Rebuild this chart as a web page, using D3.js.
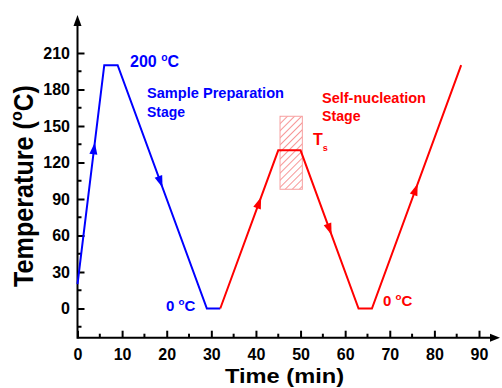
<!DOCTYPE html>
<html>
<head>
<meta charset="utf-8">
<script src="https://cdn.jsdelivr.net/npm/d3@7"></script>
<style>
  body { margin: 0; background: #fff; }
  text { font-family: "Liberation Sans", Arial, sans-serif; font-weight: bold; }
</style>
</head>
<body>
<div id="chart"></div>
<script>
// heating / cooling programme
var blueTime = [0, 6, 9, 29, 32];
var blueTemp = [20, 200, 200, 0, 0];
var redTime = [32, 45, 50, 63, 66, 86];
var redTemp = [0, 130, 130, 0, 0, 200];
// arrows: segment index + fraction along it
var blueArrows = [[0, 0.62], [2, 0.48]];
var redArrows = [[0, 0.67], [2, 0.5], [4, 0.49]];
// Ts window
var tsTime = [45.4, 50.4];
var tsTemp = [98, 158];
var xTicks = [0, 10, 20, 30, 40, 50, 60, 70, 80, 90];
var yTicks = [0, 30, 60, 90, 120, 150, 180, 210];

var W = 502, H = 388;
var svg = d3.select("#chart").append("svg")
  .attr("width", W).attr("height", H);

var x = d3.scaleLinear().domain([0, 90]).range([77.5, 479]);
var y = d3.scaleLinear().domain([-24, 210]).range([337.7, 53]);

var defs = svg.append("defs");
var pat = defs.append("pattern")
  .attr("id", "hatch").attr("patternUnits", "userSpaceOnUse")
  .attr("width", 5).attr("height", 5)
  .attr("patternTransform", "rotate(45)");
pat.append("line").attr("x1", 0).attr("y1", 0).attr("x2", 0).attr("y2", 5)
  .attr("stroke", "#f03030").attr("stroke-width", 1);

// axes
var axisY = y(-24), axisX = x(0);
var gx = svg.append("g").attr("transform", "translate(0," + axisY + ")")
  .call(d3.axisBottom(x).tickValues(xTicks).tickSizeInner(-7).tickSizeOuter(0).tickPadding(11));
var gy = svg.append("g").attr("transform", "translate(" + axisX + ",0)")
  .call(d3.axisLeft(y).tickValues(yTicks).tickSizeInner(-7).tickSizeOuter(0).tickPadding(7.5));
[gx, gy].forEach(function (g) {
  g.select(".domain").remove();
  g.selectAll("line").attr("stroke", "#000").attr("stroke-width", 2);
  g.selectAll("text").attr("font-size", 16).attr("fill", "#000");
});
// minor ticks
svg.append("g").selectAll("line").data(d3.range(5, 90, 10)).enter().append("line")
  .attr("x1", function (d) { return x(d); }).attr("x2", function (d) { return x(d); })
  .attr("y1", axisY).attr("y2", axisY - 4).attr("stroke", "#000").attr("stroke-width", 2);
svg.append("g").selectAll("line").data(d3.range(-15, 210, 30)).enter().append("line")
  .attr("y1", function (d) { return y(d); }).attr("y2", function (d) { return y(d); })
  .attr("x1", axisX).attr("x2", axisX + 4).attr("stroke", "#000").attr("stroke-width", 2);

svg.append("line").attr("x1", axisX).attr("x2", 492).attr("y1", axisY).attr("y2", axisY)
  .attr("stroke", "#000").attr("stroke-width", 2);
svg.append("line").attr("x1", axisX).attr("x2", axisX).attr("y1", axisY + 1).attr("y2", 24)
  .attr("stroke", "#000").attr("stroke-width", 2);
svg.append("path").attr("d", "M500," + axisY + "L490," + (axisY - 4) + "L490," + (axisY + 4) + "Z");
svg.append("path").attr("d", "M" + axisX + ",15L" + (axisX - 4) + ",26L" + (axisX + 4) + ",26Z");

// Ts hatched window
svg.append("rect")
  .attr("x", x(tsTime[0])).attr("width", x(tsTime[1]) - x(tsTime[0]))
  .attr("y", y(tsTemp[1])).attr("height", y(tsTemp[0]) - y(tsTemp[1]))
  .attr("fill", "url(#hatch)").attr("stroke", "#f7a0a0").attr("stroke-width", 1);

function drawRun(times, temps, color, arrows) {
  var pts = times.map(function (t, i) { return [x(t), y(temps[i])]; });
  svg.append("path").datum(pts)
    .attr("d", d3.line())
    .attr("fill", "none").attr("stroke", color).attr("stroke-width", 2);
  arrows.forEach(function (a) {
    var p0 = pts[a[0]], p1 = pts[a[0] + 1];
    var cx = p0[0] + (p1[0] - p0[0]) * a[1], cy = p0[1] + (p1[1] - p0[1]) * a[1];
    var ang = Math.atan2(p1[1] - p0[1], p1[0] - p0[0]) * 180 / Math.PI;
    svg.append("path").attr("d", "M6,0L-6,-4L-6,4Z")
      .attr("fill", color)
      .attr("transform", "translate(" + cx + "," + cy + ") rotate(" + ang + ")");
  });
}
drawRun(blueTime, blueTemp, "#0000ff", blueArrows);
drawRun(redTime, redTemp, "#ff0000", redArrows);

// annotations
function degLabel(px, py, val, color, size) {
  var t = svg.append("text").attr("x", px).attr("y", py).attr("fill", color).attr("font-size", size);
  t.append("tspan").text(val + " ");
  t.append("tspan").text("o").attr("font-size", size * 0.65).attr("dy", -size * 0.4);
  t.append("tspan").text("C").attr("dy", size * 0.4);
}
degLabel(130, 67, "200", "#0000ff", 16);
degLabel(166, 311, "0", "#0000ff", 15);
degLabel(383, 306, "0", "#ff0000", 15);

function label(px, py, color, str, len) {
  svg.append("text").attr("x", px).attr("y", py).attr("fill", color).attr("font-size", 14)
    .attr("textLength", len).attr("lengthAdjust", "spacingAndGlyphs").text(str);
}
label(147, 98, "#0000ff", "Sample Preparation", 137);
label(147, 117, "#0000ff", "Stage", 38);
label(322, 103, "#ff0000", "Self-nucleation", 104);
label(322, 121, "#ff0000", "Stage", 38.5);
var ts = svg.append("text").attr("x", 313).attr("y", 145).attr("fill", "#ff0000").attr("font-size", 16);
ts.append("tspan").text("T");
ts.append("tspan").text("s").attr("font-size", 9).attr("dy", 6);

// axis titles
svg.append("text").attr("x", 225).attr("y", 383)
  .attr("font-size", 21).attr("textLength", 119).attr("lengthAdjust", "spacingAndGlyphs")
  .text("Time (min)");
var yt = svg.append("text").attr("transform", "translate(33,287) rotate(-90)")
  .attr("font-size", 27);
yt.append("tspan").text("Temperature (").attr("textLength", 166).attr("lengthAdjust", "spacingAndGlyphs");
yt.append("tspan").text("o").attr("font-size", 16).attr("dy", -11);
yt.append("tspan").text("C)").attr("dy", 11).attr("textLength", 26).attr("lengthAdjust", "spacingAndGlyphs");
</script>
</body>
</html>
